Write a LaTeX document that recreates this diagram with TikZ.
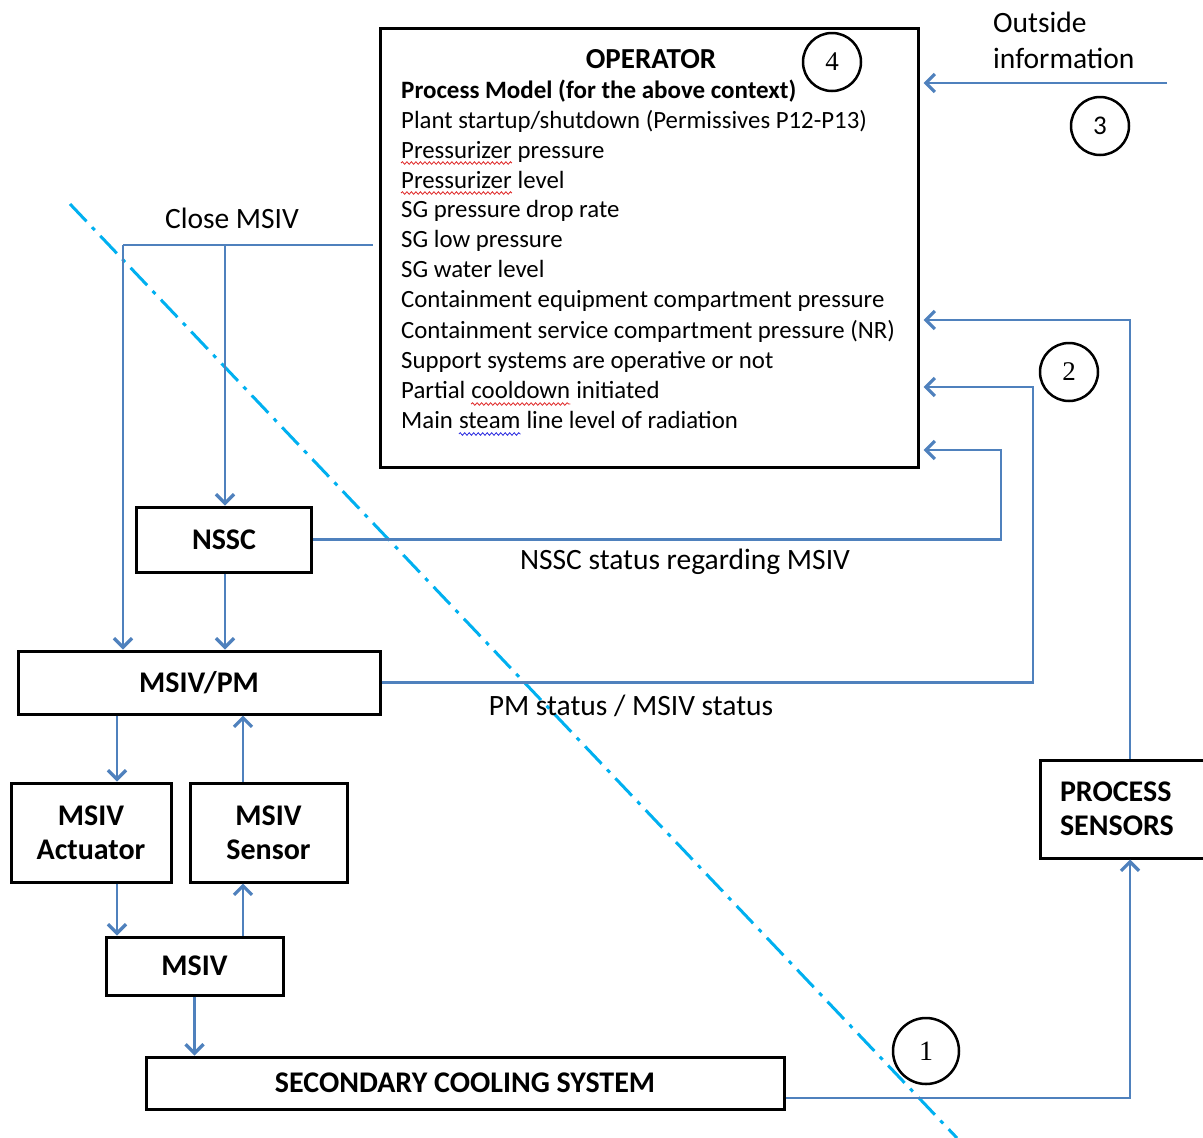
\documentclass[tikz,border=0pt]{standalone}
\usepackage{fontspec}
\setmainfont{Carlito}
\newfontfamily\numserif{Liberation Serif}
\usetikzlibrary{arrows.meta,decorations.pathmorphing}
\definecolor{linkblue}{HTML}{4F81BD}
\definecolor{divblue}{HTML}{00B0F0}
\definecolor{spellred}{HTML}{E02828}
\definecolor{spellblue}{HTML}{2A2AE0}

\begin{document}
\begin{tikzpicture}[x=1pt,y=-1pt,
  box/.style={draw=black, line width=3pt, inner sep=0pt, fill=white},
  boxtext/.style={font=\bfseries\fontsize{30}{34}\selectfont, align=center},
  item/.style={anchor=base west, inner sep=0pt, font=\fontsize{24.8}{28}\selectfont},
  lbl/.style={inner sep=0pt, font=\fontsize{29.5}{32}\selectfont},
  badge/.style={circle, draw=black, line width=2.5pt, minimum size=58pt, inner sep=0pt, font=\fontsize{27}{27}\selectfont},
  conn/.style={draw=linkblue, line width=2.8pt},
  arr/.style={conn, -{Straight Barb[length=9pt, width=18pt, line width=3.2pt]}},
  divline/.style={draw=divblue, line width=3pt, dash pattern=on 24pt off 8pt on 4pt off 8pt},
  wavy/.style={draw=#1, line width=0.8pt, decorate, decoration={snake, amplitude=1.3pt, segment length=4.5pt}}
]
\useasboundingbox (0,0) rectangle (1203,1138);

% system boundary
\draw[divline] (70,204) -- (957,1138);

% operator with its process model
\node[box, minimum width=538pt, minimum height=439pt] (op) at (649,247.5) {};
\node[anchor=base, inner sep=0pt, font=\bfseries\fontsize{29}{30}\selectfont] (optitle) at (651,68) {OPERATOR};
\node[item, font=\bfseries\fontsize{25}{28}\selectfont] (pmhead) at (401,98) {Process Model (for the above context)};
\node[item] (l1) at (401,128) {Plant startup/shutdown (Permissives P12-P13)};
\node[item] (l2a) at (401,158) {Pressurizer};
\node[item] (l2b) at ([xshift=5.6pt]l2a.base east) {pressure};
\node[item] (l3a) at (401,188) {Pressurizer};
\node[item] (l3b) at ([xshift=5.6pt]l3a.base east) {level};
\node[item] (l4) at (401,217) {SG pressure drop rate};
\node[item] (l5) at (401,247) {SG low pressure};
\node[item] (l6) at (401,277) {SG water level};
\node[item] (l7) at (401,307) {Containment equipment compartment pressure};
\node[item] (l8) at (401,338) {Containment service compartment pressure (NR)};
\node[item] (l9) at (401,368) {Support systems are operative or not};
\node[item] (l10a) at (401,398) {Partial};
\node[item] (l10b) at ([xshift=5.6pt]l10a.base east) {cooldown};
\node[item] (l10c) at ([xshift=5.6pt]l10b.base east) {initiated};
\node[item] (l11a) at (401,428) {Main};
\node[item] (l11b) at ([xshift=5.6pt]l11a.base east) {steam};
\node[item] (l11c) at ([xshift=5.6pt]l11b.base east) {line level of radiation};

% spelling marks
\draw[wavy=spellred] ([yshift=-5pt]l2a.base west) -- ([yshift=-5pt]l2a.base east);
\draw[wavy=spellred] ([yshift=-5pt]l3a.base west) -- ([yshift=-5pt]l3a.base east);
\draw[wavy=spellred] ([yshift=-6pt]l10b.base west) -- ([yshift=-6pt]l10b.base east);
\draw[wavy=spellblue] ([yshift=-6pt]l11b.base west) -- ([yshift=-6pt]l11b.base east);

% control structure blocks
\node[box, boxtext, minimum width=175pt, minimum height=65pt] (nssc) at (224,539.5) {NSSC};
\node[box, boxtext, minimum width=362pt, minimum height=63pt] (pm) at (199,682.5) {MSIV/PM};
\node[box, boxtext, minimum width=160pt, minimum height=99pt] (act) at (91,832.5) {MSIV\\Actuator};
\node[box, boxtext, minimum width=157pt, minimum height=99pt] (sen) at (268.5,832.5) {MSIV\\Sensor};
\node[box, boxtext, minimum width=177pt, minimum height=58pt] (msiv) at (194.5,966) {MSIV};
\node[box, boxtext, minimum width=638pt, minimum height=52pt] (scs) at (465,1083) {SECONDARY COOLING SYSTEM};
\node[box, boxtext, align=left, minimum width=180pt, minimum height=98pt, text width=140pt, inner xsep=20pt] (ps) at (1130,809) {PROCESS\\SENSORS};

% numbered markers
\node[badge] (n4) at (832,62) {\numserif 4};
\node[badge] (n3) at (1100,126) {3};
\node[badge] (n2) at (1069,372) {\numserif 2};
\node[badge, minimum size=66pt, font=\fontsize{28}{28}\selectfont] (n1) at (926,1051) {\numserif 1};

% helper points for the routed connectors
\coordinate (oi) at (1167,83);
\coordinate (cm) at (123,245);
\coordinate (cb) at (225,245);
\coordinate (k1) at (1001,450);
\coordinate (k2) at (1033,387);
\coordinate (k3) at (1130,320);
\coordinate (xa) at (117,0);
\coordinate (xs) at (243,0);

% connectors
\draw[arr, shorten >=4pt] (oi) -- (oi -| op.east);
\draw[arr, shorten >=4pt] (ps.north) -- (k3) -- (k3 -| op.east);
\draw[arr, shorten >=4pt] (pm.east) -| (k2) -- (k2 -| op.east);
\draw[arr, shorten >=4pt] (nssc.east) -| (k1) -- (k1 -| op.east);
\draw[conn, shorten <=6pt] (op.west |- cm) -- (cm);
\draw[arr] (cm) -- (cm |- pm.north);
\draw[arr] (cb) -- (cb |- nssc.north);
\draw[arr] (nssc.south -| cb) -- (pm.north -| cb);
\draw[arr] (pm.south -| xa) -- (act.north -| xa);
\draw[arr] (sen.north -| xs) -- (pm.south -| xs);
\draw[arr] (act.south -| xa) -- (msiv.north -| xa);
\draw[arr] (msiv.north -| xs) -- (sen.south -| xs);
\draw[arr] (msiv.south) -- (msiv.south |- scs.north);
\draw[arr] ([yshift=-15pt]scs.east) -| (ps.south);

% connector labels
\node[lbl] (lclose) at (232,218) {Close MSIV};
\node[lbl] (lnssc) at (685,562) {NSSC status regarding MSIV};
\node[lbl] (lpm) at (631,706) {PM status / MSIV status};
\node[lbl, anchor=west] (loi1) at (993,22) {Outside};
\node[lbl, anchor=west] (loi2) at (993,58) {information};
\end{tikzpicture}
\end{document}
